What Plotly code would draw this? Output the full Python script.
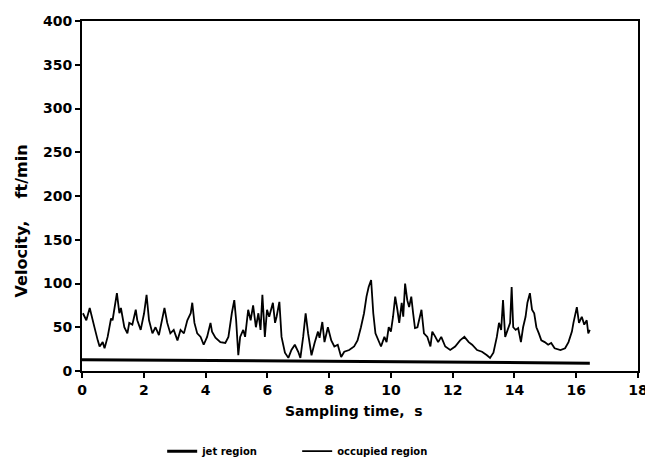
import plotly.graph_objects as go

# Occupied region velocity trace (ft/min) vs sampling time (s)
occ_time = [0.03, 0.14, 0.25, 0.35, 0.41, 0.51, 0.57, 0.67, 0.73, 0.83, 0.94, 0.99, 1.07, 1.13, 1.21, 1.26,
            1.37, 1.47, 1.53, 1.63, 1.74, 1.79, 1.90, 2.01, 2.09, 2.17, 2.28, 2.38, 2.49, 2.60, 2.67, 2.76,
            2.86, 2.97, 3.09, 3.19, 3.30, 3.41, 3.52, 3.57, 3.64, 3.73, 3.84, 3.94, 4.05, 4.16, 4.21, 4.32,
            4.48, 4.64, 4.74, 4.85, 4.93, 4.99, 5.06, 5.12, 5.22, 5.28, 5.38, 5.46, 5.54, 5.63, 5.71, 5.78,
            5.84, 5.92, 5.99, 6.06, 6.18, 6.25, 6.30, 6.39, 6.46, 6.57, 6.68, 6.78, 6.89, 7.00, 7.07, 7.16,
            7.24, 7.32, 7.43, 7.53, 7.64, 7.69, 7.78, 7.85, 7.96, 8.07, 8.17, 8.28, 8.39, 8.49, 8.65, 8.81,
            8.92, 9.03, 9.13, 9.21, 9.28, 9.36, 9.43, 9.50, 9.61, 9.68, 9.79, 9.86, 9.93, 10.00, 10.07, 10.14,
            10.21, 10.27, 10.35, 10.40, 10.46, 10.53, 10.59, 10.66, 10.72, 10.78, 10.86, 10.93, 10.99, 11.07,
            11.18, 11.28, 11.34, 11.44, 11.53, 11.63, 11.76, 11.92, 12.08, 12.24, 12.38, 12.52, 12.63, 12.79,
            12.95, 13.11, 13.21, 13.32, 13.43, 13.50, 13.57, 13.63, 13.70, 13.78, 13.86, 13.91, 13.96, 14.04,
            14.12, 14.21, 14.28, 14.36, 14.42, 14.50, 14.57, 14.64, 14.71, 14.79, 14.87, 14.98, 15.09, 15.19,
            15.30, 15.49, 15.64, 15.75, 15.86, 15.91, 15.96, 16.02, 16.09, 16.18, 16.26, 16.34, 16.39, 16.44]
occ_velocity = [66, 58, 72, 55, 49, 35, 28, 33, 26, 39, 60, 58, 78, 89, 66, 72,
                50, 43, 55, 53, 70, 58, 47, 66, 87, 58, 43, 50, 41, 62, 72, 55,
                43, 47, 35, 47, 43, 58, 66, 78, 55, 43, 39, 30, 39, 55, 45, 38,
                33, 32, 39, 66, 81, 58, 18, 39, 47, 39, 70, 58, 75, 50, 66, 47,
                87, 39, 70, 62, 78, 55, 62, 79, 39, 21, 15, 24, 30, 22, 15, 39,
                66, 43, 18, 32, 45, 38, 56, 33, 50, 35, 28, 30, 16, 22, 24, 28,
                35, 50, 66, 85, 96, 104, 66, 43, 35, 28, 39, 33, 50, 45, 62, 85,
                70, 55, 78, 62, 100, 81, 73, 85, 66, 49, 50, 62, 70, 43,
                39, 28, 45, 39, 33, 39, 28, 24, 28, 35, 39, 33, 30, 24,
                22, 18, 15, 21, 39, 55, 47, 81, 39, 47, 55, 96, 50, 47,
                49, 33, 50, 62, 78, 89, 70, 66, 50, 43, 35, 33, 30, 32,
                26, 24, 26, 33, 45, 55, 62, 73, 55, 62, 53, 58, 43, 47]

# Jet region velocity (ft/min)
jet_time = [0, 4, 8, 12, 16.44]
jet_velocity = [13, 12, 11, 10, 9]

x_ticks = [0, 2, 4, 6, 8, 10, 12, 14, 16, 18]
y_ticks = [0, 50, 100, 150, 200, 250, 300, 350, 400]

FONT = "DejaVu Sans"

fig = go.Figure()
fig.add_trace(go.Scatter(x=jet_time, y=jet_velocity, mode="lines", name="jet region",
                         line=dict(color="black", width=3)))
fig.add_trace(go.Scatter(x=occ_time, y=occ_velocity, mode="lines", name="occupied region",
                         line=dict(color="black", width=1.8)))

axis_common = dict(showgrid=False, zeroline=False, showline=True, linecolor="black", linewidth=2,
                   mirror=True, ticks="outside", ticklen=5, tickwidth=1.5, tickcolor="black",
                   tickfont=dict(family=FONT, size=14, color="black", weight="bold"))

fig.update_xaxes(range=[0, 18], tickvals=x_ticks, automargin=False, **axis_common)
fig.update_yaxes(range=[0, 400], tickvals=y_ticks, automargin=False, **axis_common)

fig.add_annotation(text="Sampling time,  s", xref="paper", yref="paper", x=0.49, y=-0.115,
                   xanchor="center", yanchor="middle", showarrow=False,
                   font=dict(family=FONT, size=14, color="black", weight="bold"))
fig.add_annotation(text="Velocity,    ft/min", xref="paper", yref="paper", x=-0.108, y=0.43,
                   xanchor="center", yanchor="middle", showarrow=False, textangle=-90,
                   font=dict(family=FONT, size=16, color="black", weight="bold"))

# The page body adds an 8 px offset, so the figure is sized to fill the rest of the window.
fig.update_layout(
    width=645, height=452,
    margin=dict(l=74, r=15, t=13, b=89, autoexpand=False),
    paper_bgcolor="white", plot_bgcolor="white",
    showlegend=True,
    legend=dict(orientation="h", x=0.387, xanchor="center", y=-0.229, yanchor="middle",
                entrywidth=90, entrywidthmode="pixels",
                font=dict(family=FONT, size=10, color="black", weight="bold"),
                bgcolor="rgba(0,0,0,0)"),
)

fig.write_html("out.html")
